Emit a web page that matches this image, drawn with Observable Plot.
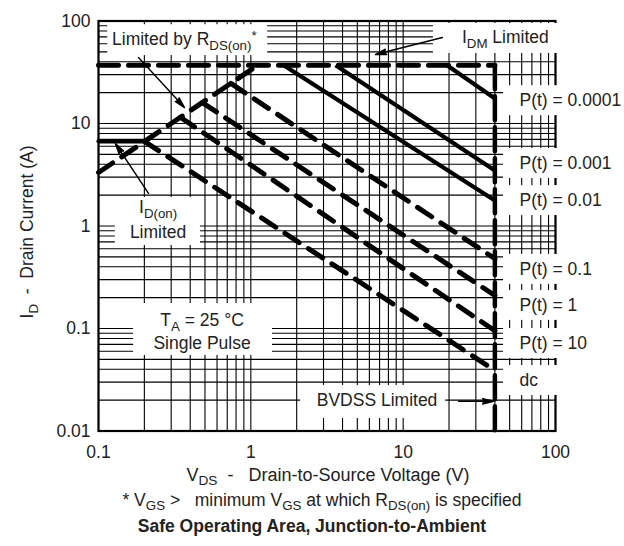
<!DOCTYPE html>
<html><head><meta charset="utf-8">
<script src="https://cdn.jsdelivr.net/npm/d3@7"></script>
<script src="https://cdn.jsdelivr.net/npm/@observablehq/plot@0.6"></script>
<style>body{margin:0;background:#fff} svg{display:block}</style>
</head><body><div id="chart"></div>
<script>
// ---------- data ----------
const xTicks = [0.1, 1, 10, 100];
const yTicks = [0.01, 0.1, 1, 10, 100];
const idmLimit = 37;          // A
const bvdssLimit = 40;        // V
const idOnLimit = 6.7;        // A
const idOnV = [0.1, 0.2];
const rdsV = [0.1, 1.11];
const rdsI = [3.33, 37];
const pulseLabels = ["P(t) = 0.0001", "P(t) = 0.001", "P(t) = 0.01", "P(t) = 0.1", "P(t) = 1", "P(t) = 10", "dc"];
const pulseStartV = [19.4, 3.6, 1.64, 0.74, 0.48, 0.345, 0.2];
const pulseStartI = [37, 37, 37, 24.6, 16, 11.5, 6.7];
const pulseEndI = [17.5, 3.47, 1.77, 0.48, 0.21, 0.095, 0.039];
const pulseDashed = [false, false, false, true, true, true, true];
const pulseLabelI = [16.7, 4.07, 1.77, 0.377, 0.168, 0.0714, 0.0311];

// ---------- annotation layout (data coordinates) ----------
const FONT = "'Liberation Sans', Arial, Helvetica, sans-serif";
const FS = 17.5;
const boxes = [
  {x1: 0.115, x2: 1.29, y1: 46, y2: 92},       // Limited by RDS(on)
  {x1: 15.8, x2: 108, y1: 48.2, y2: 94.5},     // IDM Limited
  {x1: 0.129, x2: 0.467, y1: 0.645, y2: 1.90}, // ID(on) Limited
  {x1: 0.170, x2: 1.387, y1: 0.0546, y2: 0.175}, // TA / Single Pulse
  {x1: 2.12, x2: 19.0, y1: 0.01324, y2: 0.0278}  // BVDSS Limited
];
const labelBoxX = [45.6, 300];
const labelX = 58.0;
const arrows = [
  {x1: 18.1, y1: 69.0, x2: 6.58, y2: 47.1},    // IDM
  {x1: 0.183, y1: 44.0, x2: 0.367, y2: 14.3},  // RDS(on)
  {x1: 0.213, y1: 2.08, x2: 0.129, y2: 6.38},  // ID(on)
  {x1: 23.1, y1: 0.0195, x2: 39.2, y2: 0.0195} // BVDSS
];

// ---------- build tables ----------
const segs = [];
pulseLabels.forEach((lab, i) => {
  segs.push({k: lab, v: pulseStartV[i], a: pulseStartI[i], dashed: pulseDashed[i]});
  segs.push({k: lab, v: bvdssLimit, a: pulseEndI[i], dashed: pulseDashed[i]});
});
const idm = [{v: xTicks[0], a: idmLimit}, {v: bvdssLimit, a: idmLimit}];
const bv = [{v: bvdssLimit, a: idmLimit}, {v: bvdssLimit, a: yTicks[0]}];
const rds = rdsV.map((v, i) => ({v, a: rdsI[i]}));
const idon = idOnV.map(v => ({v, a: idOnLimit}));
const labBoxes = pulseLabelI.map(c => ({x1: labelBoxX[0], x2: labelBoxX[1], y1: c / 1.4, y2: c * 1.4}));

const thick = {stroke: "black", strokeWidth: 5, strokeLinecap: "round"};
const chart = Plot.plot({
  width: 624, height: 546,
  marginLeft: 98, marginRight: 69, marginTop: 20.5, marginBottom: 115.5,
  style: {fontFamily: FONT, fontSize: FS + "px", color: "#222", background: "white"},
  x: {type: "log", domain: [0.1, 100]},
  y: {type: "log", domain: [0.01, 100]},
  marks: [
    Plot.gridX({ticks: 30, stroke: "black", strokeOpacity: 1, strokeWidth: 1.1}),
    Plot.gridY({ticks: 40, stroke: "black", strokeOpacity: 1, strokeWidth: 1.1}),
    Plot.frame({stroke: "black", strokeWidth: 2.2}),
    Plot.axisX({ticks: xTicks, tickSize: 0, tickPadding: 15, tickFormat: d => String(d), label: null, fill: "#222"}),
    Plot.axisY({ticks: yTicks, tickSize: 0, tickPadding: 8, tickFormat: d => String(d), label: null, fill: "#222"}),
    Plot.line(segs.filter(d => !d.dashed), {x: "v", y: "a", z: "k", stroke: "black", strokeWidth: 4.2, strokeLinecap: "butt"}),
    Plot.line(segs.filter(d => d.dashed), {x: "v", y: "a", z: "k", ...thick, strokeDasharray: "17,11"}),
    Plot.line(idm, {x: "v", y: "a", ...thick, strokeDasharray: "20,10"}),
    Plot.line(bv, {x: "v", y: "a", ...thick, strokeWidth: 4.5, strokeDasharray: "24,7"}),
    Plot.line(rds, {x: "v", y: "a", ...thick, strokeDasharray: "17,11"}),
    Plot.line(idon, {x: "v", y: "a", stroke: "black", strokeWidth: 4.2}),
    Plot.rect(boxes, {x1: "x1", x2: "x2", y1: "y1", y2: "y2", fill: "white"}),
    Plot.rect(labBoxes, {x1: "x1", x2: "x2", y1: "y1", y2: "y2", fill: "white"}),
    Plot.arrow(arrows, {x1: "x1", y1: "y1", x2: "x2", y2: "y2", stroke: "black", fill: "black", strokeWidth: 1.4, strokeLinejoin: "miter", headLength: 12, headAngle: 28}),
    Plot.text(pulseLabels, {x: () => labelX, y: (d, i) => pulseLabelI[i], text: d => d, textAnchor: "start", fontSize: FS, fill: "#222"})
  ]
});
document.getElementById("chart").appendChild(chart);

// ---------- rich text (subscripts) ----------
const svg = d3.select(chart);
const sx = v => chart.scale("x").apply(v);
const sy = v => chart.scale("y").apply(v);
function rich(x, y, parts, {anchor = "start", size = FS, weight = "normal", rotate = false, sub = 0.28} = {}) {
  const t = svg.append("text").attr("x", x).attr("y", y).attr("text-anchor", anchor)
    .attr("font-size", size).attr("font-weight", weight).attr("fill", "#222")
    .attr("font-family", FONT).style("white-space", "pre");
  if (rotate) t.attr("transform", `rotate(-90,${x},${y})`);
  let shift = 0;
  for (const [s, kind] of parts) {
    const target = kind === "sub" ? size * sub : kind === "sup" ? -size * 0.3 : 0;
    const ts = t.append("tspan").text(s).attr("dy", target - shift);
    if (kind) ts.attr("font-size", size * 0.76);
    shift = target;
  }
  return t;
}
const base = FS * 0.35;
rich(sx(0.1236), sy(57.7), [["Limited by R"], ["DS(on)", "sub"], ["*", "sup"]]);
rich(sx(24.5), sy(60.3), [["I"], ["DM", "sub"], [" Limited"]]);
rich(sx(0.248), sy(1.416) - 3 + base, [["I"], ["D(on)", "sub"]], {anchor: "middle"});
rich(sx(0.248), sy(0.925) + 3 + base, [["Limited"]], {anchor: "middle"});
rich(sx(0.482), sy(0.1146) - 2 + base, [["T"], ["A", "sub"], [" = 25 °C"]], {anchor: "middle"});
rich(sx(0.482), sy(0.0747) + 2 + base, [["Single Pulse"]], {anchor: "middle"});
rich(sx(6.79), sy(0.01985) + base, [["BVDSS Limited"]], {anchor: "middle"});
// axis titles, footnote, caption
rich(27 + base, 232, [["I"], ["D", "sub"], ["  -  Drain Current (A)"]], {anchor: "middle", rotate: true});
rich(328, 475 + base, [["V"], ["DS", "sub"], ["  -   Drain-to-Source Voltage (V)"]], {anchor: "middle", size: 18, sub: 0.24});
rich(322, 500 + base, [["* V"], ["GS", "sub"], [" >   minimum V"], ["GS", "sub"], [" at which R"], ["DS(on)", "sub"], [" is specified"]], {anchor: "middle", sub: 0.24});
rich(312, 526 + base, [["Safe Operating Area, Junction-to-Ambient"]], {anchor: "middle", weight: "bold", size: 17.5});
</script></body></html>
